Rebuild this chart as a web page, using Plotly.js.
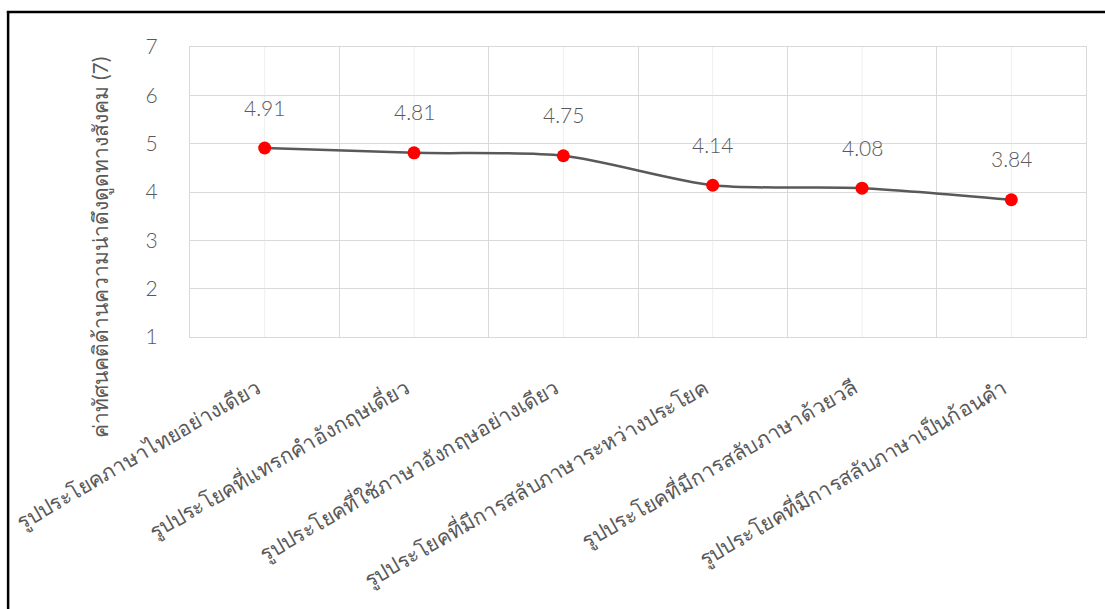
<!DOCTYPE html>
<html>
<head>
<meta charset="utf-8">
<script src="https://cdn.plot.ly/plotly-3.0.1.min.js"></script>
<style>
  html, body { margin: 0; padding: 0; background: #fff; }
  #chart { width: 1105px; height: 609px; }
</style>
</head>
<body>
<div id="chart"></div>
<script>
// Sentence patterns (Thai / English code-switching types)
const categories = [
  "รูปประโยคภาษาไทยอย่างเดียว",
  "รูปประโยคที่แทรกคำอังกฤษเดี่ยว",
  "รูปประโยคที่ใช้ภาษาอังกฤษอย่างเดียว",
  "รูปประโยคที่มีการสลับภาษาระหว่างประโยค",
  "รูปประโยคที่มีการสลับภาษาด้วยวลี",
  "รูปประโยคที่มีการสลับภาษาเป็นก้อนคำ"
];
// Mean social-attractiveness attitude scores (7-point scale)
const scores = [4.91, 4.81, 4.75, 4.14, 4.08, 3.84];
const yTickValues = [1, 2, 3, 4, 5, 6, 7];
const yAxisTitle = "ค่าทัศนคติด้านความน่าดึงดูดทางสังคม (7)";

const textColor = "#595959";
const fontFamily = "Lato, 'Noto Sans', sans-serif";

const trace = {
  type: "scatter",
  mode: "lines+markers",
  x: categories,
  y: scores,
  line: { color: "#595959", width: 2.5, shape: "spline", smoothing: 0.8 },
  marker: { color: "#ff0000", size: 13 },
  hoverinfo: "x+y"
};

// value labels above each point
const valueLabels = categories.map((c, i) => ({
  x: c, y: scores[i], xref: "x", yref: "y",
  text: scores[i].toFixed(2),
  showarrow: false, yshift: 41,
  font: { family: fontFamily, size: 21, weight: 300, color: textColor }
}));

// lighter grid lines through the category centres
const centreLines = categories.map(c => ({
  type: "line", xref: "x", yref: "paper",
  x0: c, x1: c, y0: 0, y1: 1,
  layer: "below",
  line: { color: "#efefef", width: 1 }
}));

// outer frame (left and top edges)
const frame = [
  { type: "line", xref: "paper", yref: "paper", x0: -0.203, x1: -0.203, y0: 1.121, y1: -1.0,
    line: { color: "#000", width: 2.5 } },
  { type: "line", xref: "paper", yref: "paper", x0: -0.2045, x1: 1.1, y0: 1.121, y1: 1.121,
    line: { color: "#000", width: 2.5 } }
];

const layout = {
  width: 1105, height: 609,
  margin: { l: 190, r: 19, t: 47, b: 272 },
  paper_bgcolor: "#fff", plot_bgcolor: "#fff",
  showlegend: false,
  font: { family: fontFamily, color: textColor },
  xaxis: {
    type: "category",
    categoryarray: categories,
    range: [-0.5, categories.length - 0.5],
    autorange: false,
    tickson: "boundaries",
    showgrid: true, gridcolor: "#d9d9d9", gridwidth: 1,
    showline: true, linecolor: "#d9d9d9", mirror: true,
    ticks: "", tickangle: -30,
    ticklabelstandoff: 30,
    ticklabelshift: -8,
    tickfont: { family: fontFamily, size: 21, weight: 300, color: textColor },
    zeroline: false, fixedrange: true
  },
  yaxis: {
    range: [1, 7],
    autorange: false,
    tickvals: yTickValues,
    showgrid: true, gridcolor: "#d9d9d9", gridwidth: 1,
    showline: true, linecolor: "#d9d9d9", mirror: true,
    ticks: "", ticklabelstandoff: 27,
    tickfont: { family: fontFamily, size: 21, weight: 300, color: textColor },
    zeroline: false, fixedrange: true
  },
  annotations: valueLabels.concat([{
    text: yAxisTitle, xref: "paper", yref: "paper",
    x: -0.1, y: 0.31, textangle: -90,
    xanchor: "center", yanchor: "middle", showarrow: false,
    font: { family: fontFamily, size: 21, color: textColor }
  }]),
  shapes: centreLines.concat(frame)
};

Plotly.newPlot("chart", [trace], layout, { displayModeBar: false, staticPlot: true });
</script>
</body>
</html>
